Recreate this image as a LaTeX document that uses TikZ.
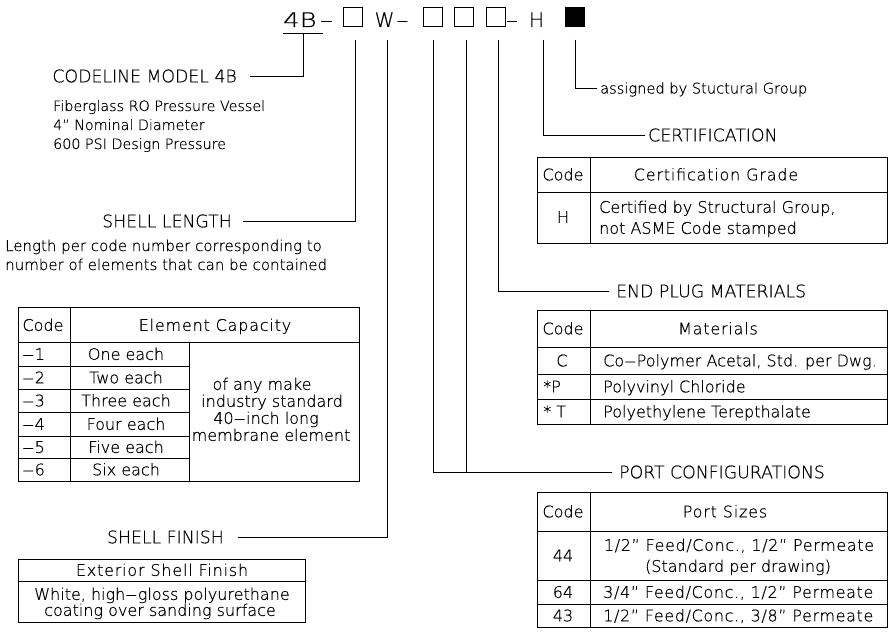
\documentclass[tikz,border=0pt]{standalone}
\usepackage{fontspec}
\IfFontExistsTF{DejaVu Sans ExtraLight}{\setmainfont[FakeBold=0.5]{DejaVu Sans ExtraLight}}{\setmainfont{DejaVu Sans}}
\newcommand{\cdash}{\scalebox{1.5}[1]{–}\kern0.5pt}
\begin{document}
\begin{tikzpicture}[x=1pt,y=-1pt,
  ln/.style={line width=0.8pt, line cap=rect},
  lbl/.style={font=\fontsize{17.3}{20}\selectfont, inner sep=0pt, text height=12.6pt, text depth=0pt},
  dsc/.style={font=\fontsize{14.3}{17}\selectfont, inner sep=0pt, anchor=base west},
  dsl/.style={font=\fontsize{15}{17}\selectfont, inner sep=0pt, anchor=base west},
  tb/.style={font=\fontsize{16}{19}\selectfont, inner sep=0pt, text height=11.7pt, text depth=0pt},
  tbw/.style={font={\fontsize{16}{19}\selectfont\addfontfeature{LetterSpace=4}}, inner sep=0pt, text height=11.7pt, text depth=0pt},
  hdr/.style={font={\fontsize{16}{19}\selectfont\addfontfeature{LetterSpace=5}}, inner sep=0pt, text height=11.7pt, text depth=0pt},
  top/.style={font=\fontsize{20}{24}\selectfont, inner sep=0pt, anchor=base},
  sq/.style={draw, line width=0.8pt, minimum width=19pt, minimum height=19.5pt, inner sep=0pt},
]
\useasboundingbox (0,0) rectangle (893,631);

% ---- top code line ----
\node[top, anchor=base west] (n4b) at (283,27) {\scalebox{1.3}[1]{4B}};
\node[top] (d1) at (326.5,27) {\scalebox{1.3}[1]{–}};
\node[sq] (b1) at (352.5,17) {};
\node[top] (nw) at (384.5,27) {W};
\node[top] (d2) at (402.5,27) {\scalebox{1.2}[1]{–}};
\node[sq] (b2) at (432.5,17) {};
\node[sq] (b3) at (463.5,17) {};
\node[sq] (b4) at (495.5,17) {};
\node[top] (d3) at (512,27) {\scalebox{1.2}[1]{–}};
\node[top] (nh) at (536.5,27) {H};
\node[sq, fill=black] (bk) at (574.5,17) {};

% ---- labels ----
\node[lbl, anchor=east] (codeline) at (237,76) {CODELINE MODEL 4B};
\node[dsc] (ds1) at (53,111) {Fiberglass RO Pressure Vessel};
\node[dsc] (ds2) at (53,130) {4” Nominal Diameter};
\node[dsc] (ds3) at (53,149) {600 PSI Design Pressure};
\node[lbl, anchor=east] (shlen) at (232,221) {SHELL LENGTH};
\node[dsl] (lp1) at (5,251) {Length per code number corresponding to};
\node[dsl] (lp2) at (5,270) {number of elements that can be contained};
\node[lbl, anchor=east] (shfin) at (224,537) {SHELL FINISH};
\node[lbl, anchor=west, font=\fontsize{14.6}{18}\selectfont, text height=11pt] (asg) at (600,88) {assigned by Stuctural Group};
\node[lbl, anchor=west] (cert) at (648,135) {CERTIFICATION};
\node[lbl, anchor=west] (endp) at (616,291) {END PLUG MATERIALS};
\node[lbl, anchor=west] (port) at (619,472) {PORT CONFIGURATIONS};

% ---- connectors ----
\coordinate (ul) at (283,33);
\coordinate (ur) at (323,33);
\coordinate (um) at (303,33);
\coordinate (p1) at (355,40);
\coordinate (pw) at (387,40);
\coordinate (p2) at (433,40);
\coordinate (p3) at (466,40);
\coordinate (p4) at (498,40);
\coordinate (ph) at (543,40);
\coordinate (pk) at (575,40);
\draw[ln] (ul) -- (ur);
\draw[ln] (um) |- ([xshift=13pt]codeline.east);
\draw[ln] (p1) |- ([xshift=11pt]shlen.east);
\draw[ln] (pw) |- ([xshift=14pt]shfin.east);
\draw[ln] (p2) |- ([xshift=-7pt]port.west);
\draw[ln] (p3) -- (p3 |- port.west);
\draw[ln] (p4) |- ([xshift=-7pt]endp.west);
\draw[ln] (ph) |- ([xshift=-3pt]cert.west);
\draw[ln] (pk) |- ([xshift=-3pt]asg.west);

% ---- shell length table ----
\draw[ln] (18,307) rectangle (359,481);
\draw[ln] (18,342) -- (359,342);
\draw[ln] (70,307) -- (70,481);
\draw[ln] (189,342) -- (189,481);
\foreach \yy in {366,389,412,436,458} \draw[ln] (18,\yy) -- (189,\yy);
\node[tb] (slc) at (43,325) {Code};
\node[hdr] (sle) at (215,325) {Element Capacity};
\node[tb, anchor=west] (r1a) at (22,354) {\cdash 1};
\node[tb, anchor=west] (r2a) at (22,377.5) {\cdash 2};
\node[tb, anchor=west] (r3a) at (22,400.5) {\cdash 3};
\node[tb, anchor=west] (r4a) at (22,424) {\cdash 4};
\node[tb, anchor=west] (r5a) at (22,447) {\cdash 5};
\node[tb, anchor=west] (r6a) at (22,469.5) {\cdash 6};
\node[tb] (r1b) at (126,354) {One each};
\node[tb] (r2b) at (126,377.5) {Two each};
\node[tb] (r3b) at (126,400.5) {Three each};
\node[tb] (r4b) at (126,424) {Four each};
\node[tb] (r5b) at (126,447) {Five each};
\node[tb] (r6b) at (126,469.5) {Six each};
\node[tb] (m1) at (262,384) {of any make};
\node[tb] (m2) at (272,401) {industry standard};
\node[tb] (m3) at (266,418) {40\cdash inch long};
\node[tb] (m4) at (271,435) {membrane element};

% ---- shell finish table ----
\draw[ln] (18,559) rectangle (305,622);
\draw[ln] (18,581) -- (305,581);
\node[hdr] (fh) at (162,570) {Exterior Shell Finish};
\node[tb] (f1) at (162,594) {White, high\cdash gloss polyurethane};
\node[tb] (f2) at (160,610) {coating over sanding surface};

% ---- certification table ----
\draw[ln] (537,157) rectangle (887,243);
\draw[ln] (537,192) -- (887,192);
\draw[ln] (590,157) -- (590,243);
\node[tb] (cc) at (563,174.5) {Code};
\node[hdr] (cg) at (716,174.5) {Certification Grade};
\node[tb] (ch) at (563,217) {H};
\node[tb, anchor=west] (c1) at (599,207) {Certified by Structural Group,};
\node[tb, anchor=west] (c2) at (599,228) {not ASME Code stamped};

% ---- end plug table ----
\draw[ln] (537,310) rectangle (887,424);
\draw[ln] (537,347) -- (887,347);
\draw[ln] (537,374) -- (887,374);
\draw[ln] (537,399) -- (887,399);
\draw[ln] (590,310) -- (590,424);
\node[tb] (ec) at (563,328.5) {Code};
\node[hdr] (em) at (718,328.5) {Materials};
\node[tb] (e1a) at (562,360.5) {C};
\node[tb, anchor=west] (e2a) at (543,386.5) {*P};
\node[tb, anchor=west] (e3a) at (543,411.5) {* T};
\node[tb, anchor=west] (e1b) at (603,360.5) {Co\cdash Polymer Acetal, Std. per Dwg.};
\node[tb, anchor=west] (e2b) at (603,386.5) {Polyvinyl Chloride};
\node[tb, anchor=west] (e3b) at (603,411.5) {Polyethylene Terepthalate};

% ---- port table ----
\draw[ln] (537,492) rectangle (887,627);
\draw[ln] (537,531) -- (887,531);
\draw[ln] (537,580) -- (887,580);
\draw[ln] (537,604) -- (887,604);
\draw[ln] (590,492) -- (590,627);
\node[tb] (pc) at (563,511.5) {Code};
\node[hdr] (ps) at (725,511.5) {Port Sizes};
\node[tb] (q1a) at (563,555.5) {44};
\node[tbw] (q1b) at (739,545) {1/2” Feed/Conc., 1/2” Permeate};
\node[tb] (q1c) at (738,566) {(Standard per drawing)};
\node[tb] (q2a) at (563,592) {64};
\node[tbw, anchor=west] (q2b) at (603,592) {3/4” Feed/Conc., 1/2” Permeate};
\node[tb] (q3a) at (563,615.5) {43};
\node[tbw, anchor=west] (q3b) at (603,615.5) {1/2” Feed/Conc., 3/8” Permeate};
\end{tikzpicture}
\end{document}
